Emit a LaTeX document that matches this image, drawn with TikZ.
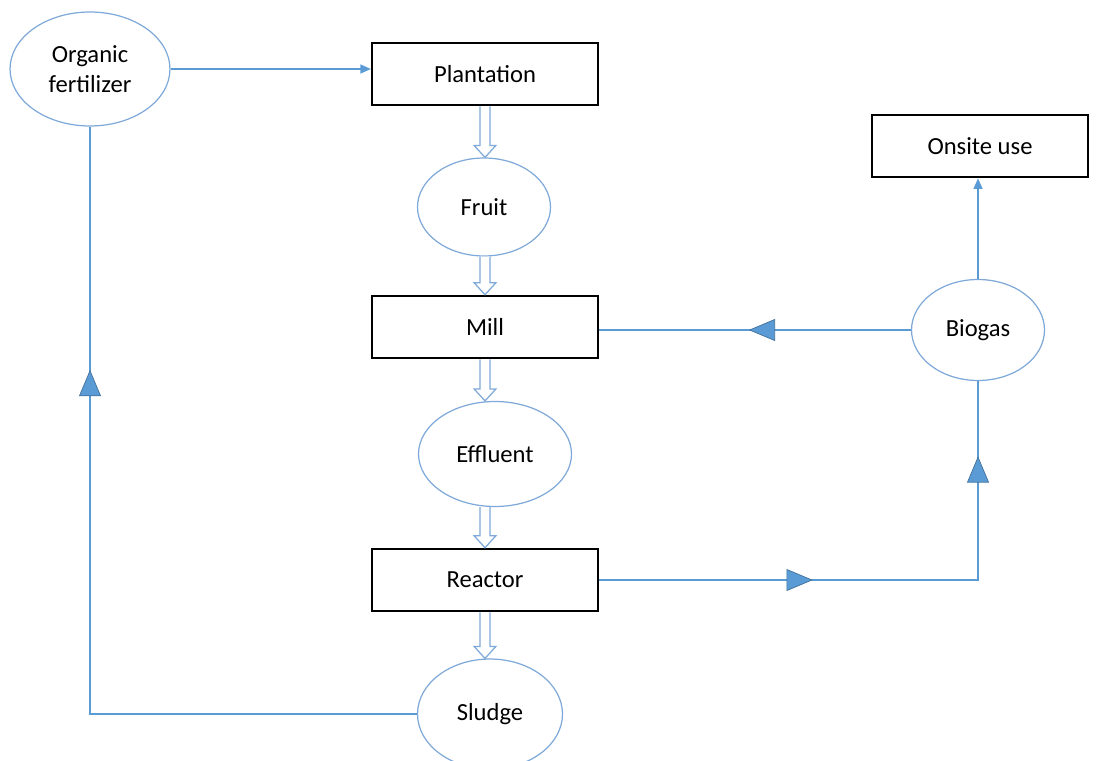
\documentclass[tikz,border=0pt]{standalone}
\usepackage{fontspec}
\setmainfont{Carlito}
\usetikzlibrary{arrows.meta,calc,shapes.geometric,decorations.markings}
\definecolor{lnblue}{HTML}{5B9BD5}
\definecolor{ovblue}{HTML}{7FA9D8}
\definecolor{triedge}{HTML}{41719C}

% hollow block arrow between two stacked nodes, on the axis of the boxes
\newcommand{\fatarrow}[2]{%
  \draw[fat] let \p1=(#1.south -| axis), \p2=(#2.north -| axis) in
    (\x1-2.8pt,\y1) -- (\x1-2.8pt,\y2+6.8pt) -- (\x1-6.2pt,\y2+6.8pt) -- (\x1,\y2)
    -- (\x1+6.2pt,\y2+6.8pt) -- (\x1+2.8pt,\y2+6.8pt) -- (\x1+2.8pt,\y1);}

\begin{document}
\begin{tikzpicture}[x=0.02cm,y=-0.02cm,>=latex,
  every node/.style={font=\fontsize{14}{17}\selectfont},
  box/.style={draw=black,line width=1.2pt,minimum width=4.52cm,minimum height=1.25cm},
  oval/.style={ellipse,draw=ovblue,line width=0.7pt,align=center,inner sep=0pt},
  link/.style={draw=lnblue,line width=1pt},
  fat/.style={draw=ovblue,line width=0.7pt,fill=white},
  midhead/.tip={Triangle[length=15pt,width=12.5pt,fill=lnblue,color=triedge,line width=0.4pt]},
  midtri/.style={postaction={decorate,decoration={markings,mark=at position #1 with {\arrow{midhead}}}}}]
\useasboundingbox (0,0) rectangle (1097,760);
\coordinate (axis) at (485,0);

\node[oval,minimum width=3.2cm,minimum height=2.28cm] (fert) at (90,69) {Organic\\fertilizer};
\node[box] (plant) at (485,74) {Plantation};
\node[oval,minimum width=2.66cm,minimum height=1.96cm] (fruit) at (484,207) {Fruit};
\node[box] (mill) at (485,327) {Mill};
\node[oval,minimum width=3.06cm,minimum height=2.1cm] (effl) at (495,454) {Effluent};
\node[box] (reactor) at (485,580) {Reactor};
\node[oval,minimum width=2.9cm,minimum height=2.2cm] (sludge) at (490,714) {Sludge};
\node[box,minimum width=4.32cm] (onsite) at (980,146) {Onsite use};
\node[oval,minimum width=2.66cm,minimum height=2.02cm] (biogas) at (978,330) {Biogas};

\fatarrow{plant}{fruit}
\fatarrow{fruit}{mill}
\fatarrow{mill}{effl}
\fatarrow{effl}{reactor}
\fatarrow{reactor}{sludge}

\coordinate (sw) at (fert.south |- sludge.west);
\coordinate (re) at (biogas.south |- reactor.east);

\draw[link,-{Triangle[length=6pt,width=5pt]}] (fert.east) -- (fert.east -| plant.west);
\draw[link,-{Triangle[length=6pt,width=5pt]}] (biogas.north) -- (biogas.north |- onsite.south);
\draw[link,midtri=0.52] (biogas.west) -- (biogas.west -| mill.east);
\draw[link,midtri=0.37,midtri=0.87] (reactor.east) -- (re) -- (biogas.south);
\draw[link,midtri=0.734] (sludge.west) -- (sw) -- (fert.south);
\end{tikzpicture}
\end{document}
